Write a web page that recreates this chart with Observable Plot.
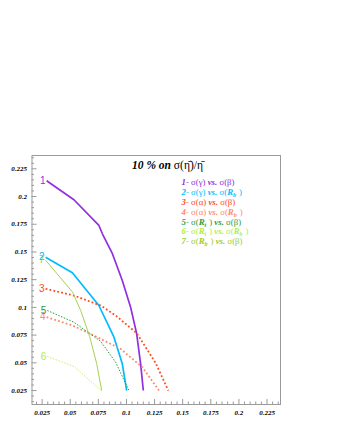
<!DOCTYPE html>
<html>
<head>
<meta charset="utf-8">
<script src="https://cdn.jsdelivr.net/npm/d3@7"></script>
<script src="https://cdn.jsdelivr.net/npm/@observablehq/plot@0.6"></script>
<style>
  html, body { margin: 0; padding: 0; background: white; }
</style>
</head>
<body>
<div id="chart"></div>
<script>
// ---------- data ----------
const xTickVals = [0.025, 0.05, 0.075, 0.1, 0.125, 0.15, 0.175, 0.2, 0.225];
const xTickLabels = ["0.025", "0.05", "0.075", "0.1", "0.125", "0.15", "0.175", "0.2", "0.225"];
const yTickVals = [0.025, 0.05, 0.075, 0.1, 0.125, 0.15, 0.175, 0.2, 0.225];
const yTickLabels = ["0.025", "0.05", "0.075", "0.1", "0.125", "0.15", "0.175", "0.2", "0.225"];

const curveNames = ["1", "2", "3", "4", "5", "6", "7"];

const c1x = [0.029, 0.0533, 0.0755, 0.0786, 0.0875, 0.0963, 0.1037, 0.1091, 0.1126, 0.115];
const c1y = [0.2142, 0.1971, 0.1739, 0.1664, 0.1484, 0.1243, 0.1002, 0.0762, 0.0491, 0.025];
const c2x = [0.0281, 0.0519, 0.0755, 0.0889, 0.0963, 0.1002];
const c2y = [0.1453, 0.1312, 0.1017, 0.0731, 0.0491, 0.025];
const c3x = [0.0281, 0.0533, 0.077, 0.0904, 0.1091, 0.126, 0.1372];
const c3y = [0.1168, 0.1107, 0.1017, 0.0927, 0.0768, 0.0498, 0.025];
const c4x = [0.029, 0.0519, 0.0711, 0.0948, 0.1141, 0.1289];
const c4y = [0.0912, 0.0837, 0.0746, 0.0626, 0.046, 0.025];
const c5x = [0.0296, 0.0533, 0.077, 0.0904, 0.1022];
const c5y = [0.0972, 0.0866, 0.0695, 0.0505, 0.025];
const c6x = [0.0296, 0.0533, 0.0775];
const c6y = [0.0557, 0.0467, 0.025];
const c7x = [0.0281, 0.0521, 0.0593, 0.0673, 0.0735, 0.078];
const c7y = [0.1426, 0.1137, 0.0972, 0.0737, 0.0494, 0.025];

const titleParts = ["10 % on ", "σ(η̄)/η̄"];
const legendTexts = [
  "1- σ(γ) vs. σ(β)",
  "2- σ(γ) vs. σ(R_b )",
  "3- σ(α) vs. σ(β)",
  "4- σ(α) vs. σ(R_b )",
  "5- σ(R_t ) vs. σ(β)",
  "6- σ(R_t ) vs. σ(R_b )",
  "7- σ(R_b ) vs. σ(β)"
];

// ---------- table ----------
const xs = [c1x, c2x, c3x, c4x, c5x, c6x, c7x];
const ys = [c1y, c2y, c3y, c4y, c5y, c6y, c7y];
const curves = curveNames.map((name, i) => xs[i].map((x, j) => ({curve: name, x, y: ys[i][j]})));

// ---------- styles ----------
const lineColors = ["#9030e0", "#00bbff", "#ff4a1a", "#ff8a66", "#2e9a3a", "#ccf060", "#a8d050"];
const textColors = ["#9030e0", "#00bbff", "#ff4a1a", "#ff8a66", "#2e9a3a", "#b0ee40", "#99cc33"];
const lineWidths = [1.7, 1.7, 1.8, 1.8, 1, 1, 1];
const lineDash = [null, null, "1.8,2.2", "1.8,2.2", "1.5,1.5", "1.5,1.5", null];

const W = 337, H = 436;
const mL = 31.5, mR = 57, mT = 155, mB = 32;
const pw = W - mL - mR, ph = H - mT - mB;
const serif = "'Liberation Serif', 'DejaVu Serif', serif";
const sans = "'Liberation Sans', 'DejaVu Sans', sans-serif";
const grey = "#9a9a9a";

const isMajor = v => xTickVals.some(t => Math.abs(t - v) < 1e-9);
const minorX = d3.range(0.02, 0.2375, 0.005).map(v => +v.toFixed(3)).filter(v => !isMajor(v));
const minorY = d3.range(0.015, 0.2375, 0.005).map(v => +v.toFixed(3)).filter(v => !isMajor(v));

const marks = [
  Plot.frame({stroke: grey}),
  Plot.tickX(minorX, {x: d => d, insetTop: ph - 2.5, stroke: grey}),
  Plot.tickX(xTickVals, {x: d => d, insetTop: ph - 5, stroke: grey}),
  Plot.tickY(minorY, {y: d => d, insetRight: pw - 2.5, stroke: grey}),
  Plot.tickY(yTickVals, {y: d => d, insetRight: pw - 5, stroke: grey}),
  Plot.axisX({ticks: xTickVals, tickSize: 0, tickPadding: 6, label: null,
    tickFormat: v => xTickLabels[xTickVals.indexOf(v)],
    fontSize: 7, fontFamily: serif, fontStyle: "italic", fontWeight: "bold", fill: "black"}),
  Plot.axisY({ticks: yTickVals, tickSize: 0, tickPadding: 5, label: null,
    tickFormat: v => yTickLabels[yTickVals.indexOf(v)],
    fontSize: 7, fontFamily: serif, fontStyle: "italic", fontWeight: "bold", fill: "black"})
];

curves.forEach((rows, i) => {
  marks.push(Plot.line(rows, {x: "x", y: "y", stroke: lineColors[i], strokeWidth: lineWidths[i],
    strokeDasharray: lineDash[i], strokeLinecap: "butt", strokeLinejoin: "miter", curve: "linear"}));
});
curves.forEach((rows, i) => {
  marks.push(Plot.text([rows[0]], {x: "x", y: "y", text: "curve", fill: textColors[i],
    textAnchor: "end", dx: -1, fontSize: 10, fontFamily: sans}));
});

marks.push(Plot.text([titleParts.join("")], {text: d => d, frameAnchor: "top-left", dx: 100, dy: 10,
  textAnchor: "start", lineAnchor: "middle", fontSize: 11.5, fontFamily: serif, fill: "black"}));

legendTexts.forEach((t, i) => {
  marks.push(Plot.text([t], {text: d => d, frameAnchor: "top-left", dx: 149.5, dy: 27 + i * 9.8,
    textAnchor: "start", lineAnchor: "middle", fontSize: 8.8, fontFamily: serif, fill: textColors[i]}));
});

const chart = Plot.plot({
  width: W, height: H,
  marginLeft: mL, marginRight: mR, marginTop: mT, marginBottom: mB,
  x: {domain: [0.016, 0.237]},
  y: {domain: [0.0124, 0.237]},
  style: {background: "white", fontFamily: serif, overflow: "visible"},
  marks
});
document.getElementById("chart").append(chart);

// ---------- rich text post-processing ----------
const svg = d3.select(chart);
const titleStr = titleParts.join("");
svg.selectAll("text").each(function() {
  const el = d3.select(this);
  const str = el.text();
  if (legendTexts.includes(str)) {
    el.text(null);
    const tokens = str.split(/(\d-|vs\.|R_\w)/).filter(s => s.length);
    tokens.forEach(tok => {
      if (/^\d-$/.test(tok) || tok === "vs.") {
        el.append("tspan").attr("font-weight", "bold").attr("font-style", "italic").text(tok);
      } else if (/^R_\w$/.test(tok)) {
        el.append("tspan").attr("font-weight", "bold").attr("font-style", "italic").text("R");
        el.append("tspan").attr("font-weight", "bold").attr("font-style", "italic")
          .attr("font-size", 6).attr("dy", 2).text(tok[2]);
        el.append("tspan").attr("dy", -2).attr("font-style", "normal").attr("font-weight", "normal").text("\u200a");
      } else {
        el.append("tspan").attr("font-style", "normal").attr("font-weight", "normal").text(tok);
      }
    });
  } else if (str === titleStr) {
    el.text(null);
    el.append("tspan").attr("font-weight", "bold").attr("font-style", "italic").text(titleParts[0]);
    el.append("tspan").attr("font-weight", "normal").attr("font-style", "normal").text(titleParts[1]);
  }
});
</script>
</body>
</html>
